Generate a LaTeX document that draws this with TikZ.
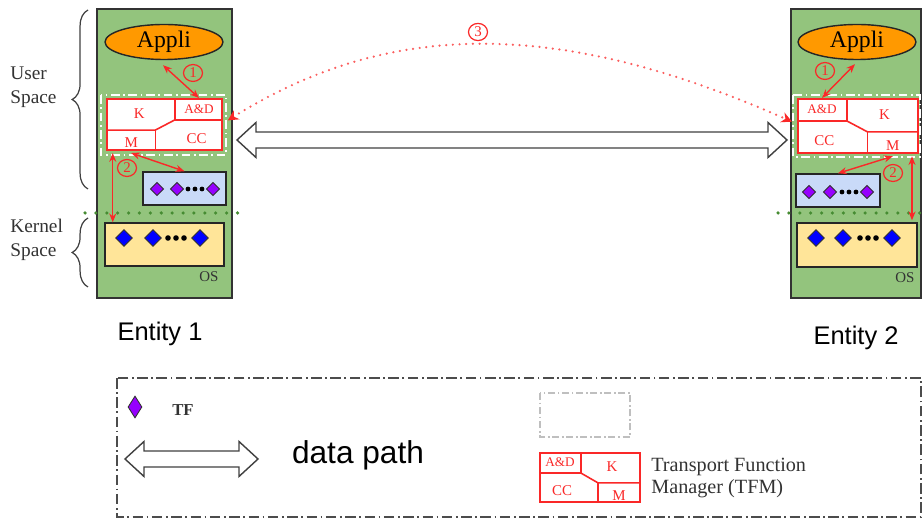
\documentclass[tikz,border=0pt]{standalone}
\usepackage{fontspec}
\setmainfont{Liberation Serif}
\newfontfamily\entityfont{Liberation Sans}
\usepackage{tikz}
\usetikzlibrary{calc,fit,arrows.meta,shapes.geometric,decorations.pathreplacing}

\definecolor{hostgreen}{RGB}{147,196,125}
\definecolor{sepgreen}{RGB}{70,140,50}
\definecolor{appliorange}{RGB}{255,153,0}
\definecolor{tfblue}{RGB}{201,218,248}
\definecolor{osyellow}{RGB}{255,229,153}
\definecolor{tfpurple}{RGB}{150,0,255}
\definecolor{tfmred}{RGB}{250,40,40}

\begin{document}
\begin{tikzpicture}[x=0.02cm, y=-0.02cm,
	host/.style={draw=black!80, line width=0.8pt, fill=hostgreen, inner sep=0pt},
	tfbox/.style={draw=black!85, line width=0.8pt, fill=tfblue, inner sep=0pt},
	osbox/.style={draw=black!85, line width=0.8pt, fill=osyellow, inner sep=0pt},
	appli/.style={ellipse, draw=black!85, line width=0.8pt, fill=appliorange,
		minimum width=2.36cm, minimum height=0.7cm, inner sep=0pt,
		font=\fontsize{13.5}{15}\selectfont},
	tfdiam/.style={diamond, draw=black!80, line width=0.5pt, fill=tfpurple,
		minimum width=0.27cm, minimum height=0.27cm, inner sep=0pt},
	osdiam/.style={diamond, draw=black!80, line width=0.5pt, fill=blue,
		minimum width=0.34cm, minimum height=0.34cm, inner sep=0pt},
	tfmline/.style={draw=tfmred, line width=0.9pt},
	tfmtext/.style={text=tfmred, inner sep=0pt, font=\fontsize{8.5}{9}\selectfont},
	ctrl/.style={draw=tfmred, line width=0.8pt,
		{Stealth[length=5pt,width=4pt]}-{Stealth[length=5pt,width=4pt]}},
	numtag/.style={ellipse, draw=tfmred, line width=0.7pt, text=tfmred,
		inner sep=0.6pt, minimum width=0.38cm, minimum height=0.26cm,
		font=\fontsize{8.5}{9}\selectfont},
	span/.style={draw=black!75, line width=0.7pt, decorate,
		decoration={brace, amplitude=9pt}},
	sidelabel/.style={anchor=west, align=left, text=black!80, inner sep=0pt,
		font=\fontsize{11}{13.6}\selectfont},
	hollow/.style={draw=black!75, line width=0.8pt, fill=white, line join=miter},
	pics/tfm/.style={code={
		\draw[tfmline, fill=white] (0,0) rectangle (1,1);
		\draw[tfmline] (0,0.41) -- (0.41,0.41) -- (0.41,0);
		\draw[tfmline] (0.41,0.41) -- (0.58,0.61) -- (1,0.61);
		\draw[tfmline] (0.58,0.61) -- (0.58,1);
		\node[tfmtext, font=\fontsize{7.5}{8}\selectfont] (-ad) at (0.2,0.19) {A\&D};
		\node[tfmtext] (-k) at (0.72,0.28) {K};
		\node[tfmtext] (-cc) at (0.22,0.77) {CC};
		\node[tfmtext] (-m) at (0.79,0.86) {M};
		\coordinate (-adtop) at (0.2,-0.02);
		\coordinate (-mbot) at (0.79,1.06);
		\coordinate (-drop) at (0.95,1.06);
		\coordinate (-link) at (-0.05,0.42);
	}},
]

	\useasboundingbox (0,0) rectangle (923,519);

% hosts %{{{2

	\node[host, fit={(97,9) (232,298)}] (hostL) {};
	\node[host, fit={(791,9) (921,298)}] (hostR) {};

	\node[appli] (appliL) at (164,42) {Appli};
	\node[appli] (appliR) at (857,42) {Appli};

% transport function managers %{{{2

	\draw[white, line width=0.8pt, dash pattern=on 5pt off 2pt on 1pt off 2pt] (101,95) rectangle (226,155);
	\draw[white, line width=0.8pt, dash pattern=on 5pt off 2pt on 1pt off 2pt] (793,95) rectangle (920,157);

	\pic[xscale=-115, yscale=51] (tfmL) at (222,99) {tfm};
	\pic[xscale=120, yscale=54] (tfmR) at (798,99) {tfm};

% transport functions and os %{{{2

	\node[tfbox, fit={(143,172) (226,205)}] (tfL) {};
	\node[tfbox, fit={(796,174) (880,207)}] (tfR) {};
	\node[osbox, fit={(105,223) (224,266)}] (osL) {};
	\node[osbox, fit={(797,223) (917,267)}] (osR) {};

	\foreach \x [count=\i] in {157,177,213} { \node[tfdiam] (tfL-\i) at (\x,189) {}; }
	\foreach \x [count=\i] in {809,830,867} { \node[tfdiam] (tfR-\i) at (\x,192) {}; }
	\foreach \x [count=\i] in {124,153,200} { \node[osdiam] (osL-\i) at (\x,238) {}; }
	\foreach \x [count=\i] in {816,843,892} { \node[osdiam] (osR-\i) at (\x,238) {}; }

	\foreach \x in {188,195,202} { \fill (\x,189) circle (2.4); }
	\foreach \x in {842,849,856} { \fill (\x,192) circle (2.4); }
	\foreach \x in {168,176,184} { \fill (\x,238) circle (2.8); }
	\foreach \x in {860,868,876} { \fill (\x,238) circle (2.8); }

	\node[text=black!80, font=\fontsize{8.5}{9}\selectfont] (osLtext) at (209,277) {OS};
	\node[text=black!80, font=\fontsize{8.5}{9}\selectfont] (osRtext) at (905,278) {OS};

% user / kernel separation %{{{2

	\draw[sepgreen, line width=2pt, line cap=round, dash pattern=on 0pt off 6.2pt] (85,213) -- (245,213);
	\draw[sepgreen, line width=2pt, line cap=round, dash pattern=on 0pt off 6.2pt] (778,213) -- (921,213);

	\draw[span] (88,189) -- (88,10);
	\draw[span] (88,287) -- (88,218);

	\node[sidelabel] (userspace) at (10,87) {User\\Space};
	\node[sidelabel] (kernelspace) at (10,240) {Kernel\\Space};

% control arrows %{{{2

	\draw[ctrl] ($(appliL.south)+(-1,5)$) -- (tfmL-adtop);
	\draw[ctrl] (tfmL-mbot) -- (tfL.north);
	\draw[ctrl] (tfmL-drop) -- (tfmL-drop |- osL.north);

	\draw[ctrl] (tfmR-adtop) -- ($(appliR.south)+(-2,4)$);
	\draw[ctrl] (tfmR-mbot) -- (tfR.north);
	\draw[ctrl] (tfmR-drop) -- ($(tfmR-drop |- osR.north)+(0,-2)$);

	\node[numtag] (numL1) at (193,73) {1};
	\node[numtag] (numL2) at (127,168) {2};
	\node[numtag] (numR1) at (825,71) {1};
	\node[numtag] (numR2) at (893,173) {2};

% peer link %{{{2

	\draw[tfmred!75, line width=1.4pt, line cap=round, dash pattern=on 0pt off 3.8pt,
		{Stealth[length=6pt,width=6pt,fill=tfmred,color=tfmred]}-{Stealth[length=6pt,width=6pt,fill=tfmred,color=tfmred]}]
		(tfmL-link) .. controls (390,19) and (560,19) .. (tfmR-link);
	\node[numtag] (num3) at (478,32) {3};

% data path arrows %{{{2

	\foreach \xa/\xb/\yc in {237/787/140, 125/258/459} {
		\draw[hollow] (\xa,\yc) -- (\xa+19,\yc-17.5) -- (\xa+19,\yc-8) -- (\xb-19,\yc-8)
			-- (\xb-19,\yc-17.5) -- (\xb,\yc) -- (\xb-19,\yc+17.5) -- (\xb-19,\yc+8)
			-- (\xa+19,\yc+8) -- (\xa+19,\yc+17.5) -- cycle;
	}

% entity names %{{{2

	\node[font=\entityfont\fontsize{14.5}{16}\selectfont] (entity1) at (160,334) {Entity 1};
	\node[font=\entityfont\fontsize{14.5}{16}\selectfont] (entity2) at (856,338) {Entity 2};

% legend %{{{2

	\draw[black!70, line width=0.8pt, dash pattern=on 6pt off 2pt on 1pt off 2pt] (117,378) rectangle (921,517);

	\node[tfdiam, minimum width=0.28cm, minimum height=0.44cm] (keyTF) at (135,407) {};
	\node[text=black!80, font=\fontsize{9.5}{11}\selectfont\bfseries] (keyTFtext) at (183,410) {TF};

	\node[font=\entityfont\fontsize{18}{20}\selectfont] (keypath) at (358,455) {data path};

	\draw[black!25, line width=0.6pt, dash pattern=on 4pt off 1.5pt on 1pt off 1.5pt] (540,393) rectangle (630,437);

	\pic[xscale=100, yscale=49] (tfmKey) at (540,453) {tfm};
	\node[anchor=west, align=left, text=black!80, inner sep=0pt,
		font=\fontsize{11.5}{13}\selectfont] (keyTFM) at (651,478) {Transport Function\\Manager (TFM)};

% closing %{{{2

\end{tikzpicture}
\end{document}
